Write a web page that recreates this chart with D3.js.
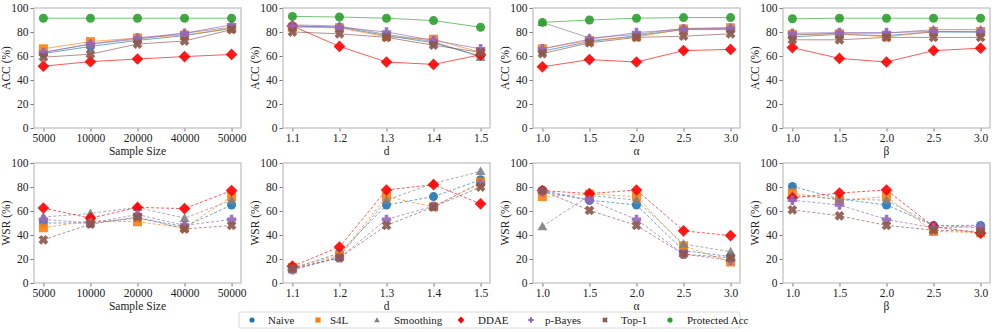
<!DOCTYPE html>
<html>
<head>
<meta charset="utf-8">
<script src="https://cdn.jsdelivr.net/npm/d3@7"></script>
<style>
  body { margin: 0; background: #fff; }
  svg text { font-family: "Liberation Serif", "Times New Roman", serif !important; }
</style>
</head>
<body>
<svg id="chart" width="996" height="332"></svg>
<script>
// x values for each column
const sampleSizes = ["5000", "10000", "20000", "40000", "50000"];
const dValues = ["1.1", "1.2", "1.3", "1.4", "1.5"];
const alphaValues = ["1.0", "1.5", "2.0", "2.5", "3.0"];
const betaValues = ["1.0", "1.5", "2.0", "2.5", "3.0"];
const yTicks = [0, 20, 40, 60, 80, 100];

const methods = ["Naive", "S4L", "Smoothing", "DDAE", "p-Bayes", "Top-1", "Protected Acc"];

// ACC (%) top row, one array per method
const accSample = {
  "Naive": [62, 68, 73, 77, 83],
  "S4L": [66, 72, 75, 77.5, 83],
  "Smoothing": [63, 70, 74, 79, 84],
  "DDAE": [51.5, 55.3, 57.5, 59.5, 61.3],
  "p-Bayes": [63, 70, 75, 79, 86],
  "Top-1": [59, 61.5, 70, 72.5, 82],
  "Protected Acc": [91.5, 91.5, 91.5, 91.5, 91.5]
};
const accD = {
  "Naive": [85, 84, 77, 71, 60],
  "S4L": [84, 83.5, 76, 74, 63],
  "Smoothing": [86, 85, 78, 72, 59],
  "DDAE": [85, 68, 55, 53, 61],
  "p-Bayes": [85, 84, 80, 73, 66],
  "Top-1": [80, 78.5, 75.5, 69, 63],
  "Protected Acc": [93, 92.5, 91.5, 89.5, 84]
};
const accAlpha = {
  "Naive": [64, 72, 77, 82, 82],
  "S4L": [66, 73, 76, 82.5, 83.5],
  "Smoothing": [88, 75, 78, 83, 83.5],
  "DDAE": [51, 57, 55, 64.5, 65.5],
  "p-Bayes": [66, 74, 79.5, 82.5, 83],
  "Top-1": [62, 71, 75.5, 76.5, 78.5],
  "Protected Acc": [88, 90, 91.5, 92, 92]
};
const accBeta = {
  "Naive": [76, 78, 77, 80, 80],
  "S4L": [78, 78.5, 76, 80.5, 80.5],
  "Smoothing": [77.5, 79, 79, 82, 82],
  "DDAE": [67, 58, 55, 64.5, 66.5],
  "p-Bayes": [79, 79.5, 79.5, 80.5, 80],
  "Top-1": [73.5, 73.5, 75.5, 75.5, 75.5],
  "Protected Acc": [91, 91.5, 91.5, 91.5, 91.5]
};

// WSR (%) bottom row
const wsrSample = {
  "Naive": [50, 50, 54, 47, 65],
  "S4L": [46, 52, 51, 46, 72],
  "Smoothing": [55, 58, 63, 54, 69],
  "DDAE": [62.5, 54, 63, 62, 77],
  "p-Bayes": [53, 50, 57, 48, 53],
  "Top-1": [36, 49, 55, 45, 48]
};
const wsrD = {
  "Naive": [12, 25, 65, 72, 86],
  "S4L": [13, 23, 72, 63.5, 84],
  "Smoothing": [11, 22, 69, 83, 93],
  "DDAE": [14, 30, 77.5, 82, 66],
  "p-Bayes": [11, 21, 53, 64, 83],
  "Top-1": [12, 21, 48, 63.5, 80]
};
const wsrAlpha = {
  "Naive": [77, 69, 65, 27, 22],
  "S4L": [72, 74, 72, 31, 17.5],
  "Smoothing": [47, 73, 69, 32.5, 26],
  "DDAE": [77, 74.5, 77.5, 43.5, 39.5],
  "p-Bayes": [76, 69, 53, 24, 19],
  "Top-1": [77, 60.5, 48, 24, 21]
};
const wsrBeta = {
  "Naive": [80.5, 70, 65, 48, 48],
  "S4L": [75, 69, 72, 43, 42],
  "Smoothing": [73, 70, 69, 48, 46],
  "DDAE": [71, 75, 77.5, 47, 41.5],
  "p-Bayes": [69, 65, 53, 46, 47],
  "Top-1": [61, 56, 48, 44, 43]
};

const colors = {
  "Naive": "#1f77b4",
  "S4L": "#ff7f0e",
  "Smoothing": "#7f7f7f",
  "DDAE": "#ff0000",
  "p-Bayes": "#9467bd",
  "Top-1": "#8c564b",
  "Protected Acc": "#2ca02c"
};

// marker paths centered at 0,0
function markerPath(name, s) {
  if (name === "Naive" || name === "Protected Acc") return d3.symbol(d3.symbolCircle, Math.PI * s * s)();
  if (name === "S4L") return `M${-s},${-s}H${s}V${s}H${-s}Z`;
  if (name === "Smoothing") {
    const h = s * 1.1;
    return `M0,${-h}L${h},${h * 0.75}L${-h},${h * 0.75}Z`;
  }
  if (name === "DDAE") { const r = s * 1.3; return `M0,${-r}L${r},0L0,${r}L${-r},0Z`; }
  if (name === "p-Bayes") {
    const a = s * 1.05, b = s * 0.4;
    return `M${-b},${-a}H${b}V${-b}H${a}V${b}H${b}V${a}H${-b}V${b}H${-a}V${-b}H${-b}Z`;
  }
  // Top-1: filled X
  const a = s, b = s * 0.4;
  const pts = [[-b, -a], [b, -a], [b, -b], [a, -b], [a, b], [b, b], [b, a], [-b, a], [-b, b], [-a, b], [-a, -b], [-b, -b]];
  const rot = Math.PI / 4;
  return "M" + pts.map(([x, y]) => [x * Math.cos(rot) - y * Math.sin(rot), x * Math.sin(rot) + y * Math.cos(rot)].map(v => (v * 1.1).toFixed(2)).join(",")).join("L") + "Z";
}

const svg = d3.select("#chart");

const panels = [
  { xs: sampleSizes, data: accSample, xl: "Sample Size", yl: "ACC (%)", row: 0, col: 0, dash: null },
  { xs: dValues, data: accD, xl: "d", yl: "ACC (%)", row: 0, col: 1, dash: null },
  { xs: alphaValues, data: accAlpha, xl: "α", yl: "ACC (%)", row: 0, col: 2, dash: null },
  { xs: betaValues, data: accBeta, xl: "β", yl: "ACC (%)", row: 0, col: 3, dash: null },
  { xs: sampleSizes, data: wsrSample, xl: "Sample Size", yl: "WSR (%)", row: 1, col: 0, dash: "3,2" },
  { xs: dValues, data: wsrD, xl: "d", yl: "WSR (%)", row: 1, col: 1, dash: "3,2" },
  { xs: alphaValues, data: wsrAlpha, xl: "α", yl: "WSR (%)", row: 1, col: 2, dash: "3,2" },
  { xs: betaValues, data: wsrBeta, xl: "β", yl: "WSR (%)", row: 1, col: 3, dash: "3,2" }
];

const colLeft = [34, 283, 533, 783];
const rowTop = [8, 163];
const pw = 207, ph = 120;
const frameColor = "#bdbdbd";
const fontSize = 11.5;

panels.forEach(p => {
  const g = svg.append("g").attr("transform", `translate(${colLeft[p.col]},${rowTop[p.row]})`);

  // 5% padding on each side of the x range, like matplotlib
  const x = d3.scalePoint().domain(p.xs).range([pw * 0.05 / 1.1, pw - pw * 0.05 / 1.1]);
  const y = d3.scaleLinear().domain([0, 100]).range([ph, 0]);

  const xAxis = g.append("g").attr("transform", `translate(0,${ph})`)
    .call(d3.axisBottom(x).tickSize(3.5).tickPadding(2));
  const yAxis = g.append("g")
    .call(d3.axisLeft(y).tickValues(yTicks).tickSize(3.5).tickPadding(2));
  [xAxis, yAxis].forEach(a => {
    a.attr("font-family", null);
    a.select(".domain").remove();
    a.selectAll("line").attr("stroke", "#555").attr("stroke-width", 0.8);
    a.selectAll("text").attr("font-size", fontSize).attr("fill", "#222");
  });

  // frame
  g.append("rect").attr("width", pw).attr("height", ph)
    .attr("fill", "none").attr("stroke", frameColor).attr("stroke-width", 1.2);

  const line = d3.line().x((d, i) => x(p.xs[i])).y(d => y(d));

  methods.filter(m => p.data[m]).forEach(m => {
    const vals = p.data[m];
    g.append("path").datum(vals)
      .attr("d", line)
      .attr("fill", "none")
      .attr("stroke", colors[m])
      .attr("stroke-opacity", 0.65)
      .attr("stroke-width", 1)
      .attr("stroke-dasharray", p.dash);
    g.selectAll(null).data(vals).join("path")
      .attr("transform", (d, i) => `translate(${x(p.xs[i])},${y(d)})`)
      .attr("d", markerPath(m, 4.5))
      .attr("fill", colors[m])
      .attr("fill-opacity", 0.9);
  });

  g.append("text")
    .attr("x", pw / 2).attr("y", ph + 27)
    .attr("text-anchor", "middle")
    .attr("font-size", fontSize).attr("fill", "#222")
    .text(p.xl);
  g.append("text")
    .attr("transform", `translate(-24,${ph / 2}) rotate(-90)`)
    .attr("text-anchor", "middle")
    .attr("font-size", fontSize).attr("fill", "#222")
    .text(p.yl);
});

// legend
const legend = svg.append("g").attr("transform", "translate(239,312)");
legend.append("rect").attr("width", 501).attr("height", 16).attr("rx", 2)
  .attr("fill", "#fff").attr("stroke", "#d0d0d0").attr("stroke-width", 0.8);
const legendMarkerX = [13, 79, 138, 222, 292, 366, 431];
const legendTextX = [29, 91, 155, 239, 306, 382, 448];
methods.forEach((m, i) => {
  legend.append("path")
    .attr("transform", `translate(${legendMarkerX[i]},8)`)
    .attr("d", markerPath(m, 2.6))
    .attr("fill", colors[m]);
  legend.append("text")
    .attr("x", legendTextX[i]).attr("y", 12)
    .attr("font-size", 11).attr("fill", "#222")
    .text(m);
});
</script>
</body>
</html>
